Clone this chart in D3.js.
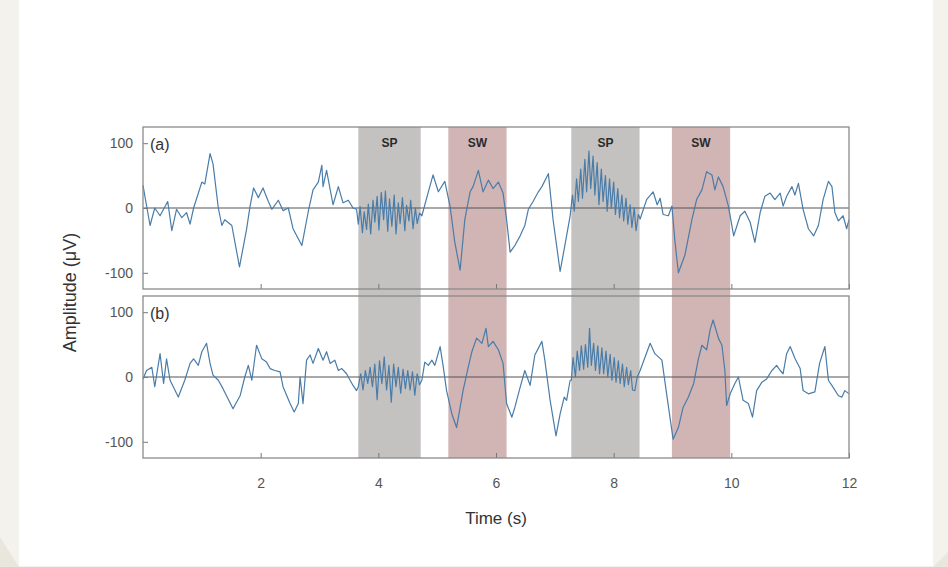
<!DOCTYPE html>
<html>
<head>
<meta charset="utf-8">
<script src="https://cdn.jsdelivr.net/npm/d3@7"></script>
<style>
  body { margin: 0; background: #f4f2ec; }
  text { font-family: "Liberation Sans", Arial, sans-serif; }
</style>
</head>
<body>
<script>
// EEG trace, two channels, with spindle (SP) and slow wave (SW) windows

var tA = [0.00,0.12,0.20,0.29,0.42,0.49,0.57,0.66,0.74,0.80,0.86,1.00,1.05,1.14,1.19,1.28,1.34,1.39,1.51,1.64,1.76,1.82,1.88,1.96,2.04,2.13,2.19,2.30,2.38,2.47,2.55,2.70,2.81,2.89,2.98,3.04,3.06,3.12,3.23,3.32,3.40,3.49,3.57,3.63,
  3.66,3.69,3.73,3.76,3.80,3.83,3.87,3.91,3.94,3.98,4.01,4.05,4.09,4.12,4.16,4.19,4.23,4.27,4.30,4.34,4.37,4.41,4.45,4.48,4.52,4.55,4.59,4.63,4.66,4.70,
  4.74,4.85,4.93,5.02,5.13,5.22,5.30,5.39,5.47,5.56,5.61,5.70,5.78,5.87,5.95,6.04,6.12,6.18,6.24,6.32,6.41,6.49,6.55,6.63,6.72,6.78,6.89,6.97,7.09,7.17,7.26,
  7.30,7.33,7.37,7.40,7.44,7.47,7.51,7.54,7.58,7.61,7.65,7.68,7.72,7.75,7.79,7.82,7.86,7.89,7.93,7.96,8.00,8.03,8.07,8.10,8.14,8.17,8.21,8.24,8.28,8.31,8.35,8.38,8.42,
  8.45,8.56,8.67,8.74,8.79,8.84,8.93,8.99,9.04,9.10,9.21,9.33,9.41,9.50,9.58,9.67,9.72,9.78,9.86,9.95,10.04,10.15,10.23,10.32,10.40,10.49,10.57,10.66,10.74,10.83,10.88,10.94,11.03,11.08,11.14,11.22,11.31,11.40,11.48,11.56,11.65,11.71,11.76,11.82,11.90,11.96,12.00];
var vA = [35,-27,0,-12,10,-35,-2,-15,-7,-25,0,40,37,84,68,0,-27,-18,-27,-91,-33,3,31,16,31,10,-2,12,-4,0,-32,-58,-5,28,40,66,33,58,5,33,8,12,0,-2,
  -25,2,-38,-6,-33,6,-40,12,-22,18,-34,24,-18,26,-36,14,-28,20,-40,8,-24,16,-35,4,-20,12,-32,0,-24,-8,
  -12,25,51,25,41,2,-53,-96,-18,25,33,58,25,43,30,40,23,-18,-68,-58,-43,-27,-2,10,25,33,53,-18,-98,-58,-12,
  20,-5,45,10,60,15,75,25,88,30,80,20,70,5,60,10,50,-5,45,0,40,-10,30,-15,20,-20,15,-25,5,-30,0,-35,-10,
  -17,13,25,5,15,-10,-12,3,-50,-100,-73,-18,13,28,56,51,28,48,33,3,-43,-12,-5,-22,-53,-7,18,23,13,23,3,18,33,20,38,-2,-32,-43,-27,13,41,33,-7,-20,-12,-32,-18];

var tB = [0.00,0.06,0.15,0.20,0.29,0.35,0.40,0.46,0.60,0.71,0.80,0.86,0.94,1.00,1.08,1.14,1.19,1.28,1.36,1.53,1.65,1.73,1.79,1.85,1.93,2.02,2.10,2.16,2.24,2.33,2.38,2.50,2.57,2.64,2.67,2.72,2.78,2.84,2.89,2.98,3.06,3.12,3.18,3.26,3.32,3.38,3.46,3.52,3.57,3.63,
  3.66,3.70,3.74,3.78,3.82,3.86,3.90,3.94,3.98,4.02,4.06,4.10,4.14,4.18,4.22,4.26,4.30,4.34,4.38,4.42,4.46,4.50,4.54,4.58,4.62,4.66,4.70,
  4.74,4.79,4.85,4.91,4.96,5.05,5.10,5.16,5.25,5.33,5.44,5.53,5.59,5.67,5.76,5.83,5.87,5.95,6.04,6.12,6.18,6.27,6.32,6.41,6.49,6.58,6.66,6.78,6.83,6.92,7.02,7.09,7.16,7.20,7.26,
  7.28,7.31,7.35,7.38,7.42,7.45,7.49,7.52,7.56,7.59,7.62,7.66,7.69,7.73,7.76,7.80,7.83,7.87,7.90,7.94,7.97,8.01,8.04,8.08,8.11,8.15,8.18,8.22,8.25,8.29,8.32,8.36,8.40,
  8.45,8.62,8.70,8.82,8.90,9.01,9.10,9.18,9.27,9.36,9.44,9.50,9.58,9.64,9.69,9.78,9.84,9.89,9.92,9.98,10.06,10.12,10.20,10.29,10.36,10.43,10.52,10.60,10.69,10.77,10.83,10.88,10.94,11.00,11.08,11.17,11.22,11.31,11.42,11.50,11.59,11.65,11.73,11.82,11.88,11.93,12.00];
var vB = [-3,10,15,-15,36,-10,28,-5,-31,-5,21,28,18,39,52,21,3,-5,-18,-49,-29,0,18,-5,49,28,23,13,10,8,-15,-41,-54,-41,0,-41,26,34,21,44,26,39,21,26,10,13,5,-5,-13,-21,
  -15,5,-20,10,-10,15,-15,20,-35,25,-10,31,-20,18,-39,20,-15,15,-25,12,-18,10,-20,8,-28,5,-12,
  -5,23,18,26,18,47,18,-21,-57,-78,-21,16,39,60,52,75,47,55,42,21,-41,-62,-47,-16,10,-13,34,55,26,-36,-91,-57,-31,-36,-5,
  -5,30,0,40,10,48,12,50,15,75,18,52,10,48,5,45,5,40,0,35,-5,30,-8,25,-10,20,-15,15,-12,10,-20,-21,0,
  10,52,36,26,-26,-96,-78,-47,-31,-10,28,49,42,73,88,60,49,10,-44,-26,-10,0,-36,-41,-62,-21,-8,-3,10,18,10,5,36,47,29,13,-21,-26,-23,21,47,-5,-16,-29,-31,-21,-26];

var bandType = ["SP", "SW", "SP", "SW"];
var bandStart = [3.66, 5.19, 7.28, 8.99];
var bandEnd = [4.72, 6.18, 8.44, 9.98];

var xTicks = [2, 4, 6, 8, 10, 12];
var yTicks = [-100, 0, 100];
var panelNames = ["(a)", "(b)"];

var width = 948;
var height = 567;

var svg = d3.select("body")
  .append("svg")
  .attr("width", width)
  .attr("height", height);

// page backdrop + card
svg.append("rect").attr("width", width).attr("height", height).attr("fill", "#f4f2ec");
svg.append("polygon").attr("points", "0,537 19,567 0,567").attr("fill", "#e9e6de");
svg.append("polygon").attr("points", "948,552 933,567 948,567").attr("fill", "#e9e6de");
svg.append("rect").attr("x", 19).attr("y", 0).attr("width", 914).attr("height", 566).attr("fill", "#ffffff");

var left = 143, right = 849;
var panels = [{top: 127, bottom: 289}, {top: 296, bottom: 458}];

var x = d3.scaleLinear().domain([0, 12]).range([left, right]);

// shaded windows, span both panels
svg.selectAll(".band")
  .data(bandType)
  .enter()
  .append("rect")
  .attr("class", "band")
  .attr("x", function(d, i) { return x(bandStart[i]); })
  .attr("width", function(d, i) { return x(bandEnd[i]) - x(bandStart[i]); })
  .attr("y", panels[0].top)
  .attr("height", panels[1].bottom - panels[0].top)
  .attr("fill", function(d) { return d == "SP" ? "#c4c1c1" : "#d1b4b4"; });

svg.selectAll(".bandlabel")
  .data(bandType)
  .enter()
  .append("text")
  .attr("x", function(d, i) { return x((bandStart[i] + bandEnd[i]) / 2); })
  .attr("y", 147)
  .attr("text-anchor", "middle")
  .style("font-size", "12px")
  .style("font-weight", "bold")
  .attr("fill", "#2b2b2b")
  .text(function(d) { return d; });

var series = [[tA, vA], [tB, vB]];
var plain = function(d) { return String(d); };

panels.forEach(function(p, k) {
  var y = d3.scaleLinear().domain([-125, 125]).range([p.bottom, p.top]);
  var g = svg.append("g");

  var pts = series[k][0].map(function(t, i) { return [t, series[k][1][i]]; });

  g.append("line")
    .attr("x1", left).attr("x2", right)
    .attr("y1", y(0)).attr("y2", y(0))
    .attr("stroke", "#555").attr("stroke-width", 1.2);

  g.append("path")
    .datum(pts)
    .attr("fill", "none")
    .attr("stroke", "#4a7ca8")
    .attr("stroke-width", 1.2)
    .attr("stroke-linejoin", "round")
    .attr("d", d3.line()
      .x(function(d) { return x(d[0]); })
      .y(function(d) { return y(d[1]); }));

  var ya = g.append("g")
    .attr("transform", "translate(" + left + ",0)")
    .call(d3.axisLeft(y).tickValues(yTicks).tickFormat(plain).tickSizeInner(-5).tickSizeOuter(0).tickPadding(10));
  ya.selectAll("text").style("font-size", "14px").attr("fill", "#555");

  var xa = g.append("g")
    .attr("transform", "translate(0," + p.bottom + ")")
    .call(d3.axisBottom(x).tickValues(xTicks).tickFormat(plain).tickSizeInner(-5).tickSizeOuter(0).tickPadding(20));
  xa.selectAll("text").style("font-size", "14px").attr("fill", "#555");
  if (k == 0) xa.selectAll("text").remove();
  g.selectAll(".domain").remove();
  g.selectAll(".tick line").attr("stroke", "#777");

  g.append("rect")
    .attr("x", left).attr("y", p.top)
    .attr("width", right - left).attr("height", p.bottom - p.top)
    .attr("fill", "none")
    .attr("stroke", "#8a8a8a")
    .attr("stroke-width", 1.3);

  g.append("text")
    .attr("x", left + 7)
    .attr("y", p.top + 23)
    .style("font-size", "16px")
    .attr("fill", "#333")
    .text(panelNames[k]);
});

svg.append("text")
  .attr("x", (left + right) / 2)
  .attr("y", 524)
  .attr("text-anchor", "middle")
  .style("font-size", "17px")
  .attr("fill", "#333")
  .text("Time (s)");

svg.append("text")
  .attr("transform", "translate(76," + ((panels[0].top + panels[1].bottom) / 2) + ") rotate(-90)")
  .attr("text-anchor", "middle")
  .style("font-size", "18px")
  .attr("fill", "#333")
  .text("Amplitude (μV)");
</script>
</body>
</html>
